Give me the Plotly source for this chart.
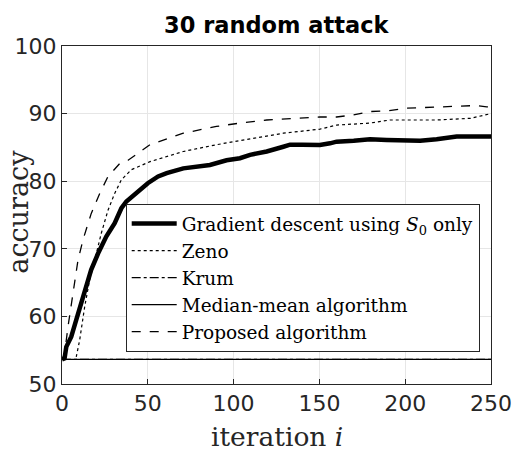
import plotly.graph_objects as go

# Iteration grid and accuracy curves (percent)
gd_iter = [0, 1.5, 2.5, 5.4, 8.3, 11.2, 14.2, 17, 21, 25.8, 30.7, 34.6, 37.5, 44.3, 50,
           56, 61, 70.7, 78, 86.2, 95.9, 103.7, 109.6, 119.3, 129, 132.9, 140, 150.3,
           156.2, 160, 170, 179.5, 189.2, 199, 208.7, 218.3, 230, 240, 250]
gd_acc = [53.65, 53.8, 55.5, 57.0, 59.5, 61.9, 64.4, 66.9, 69.3, 71.8, 73.8, 76.0, 77.0,
          78.4, 79.7, 80.7, 81.2, 81.9, 82.2, 82.4, 83.1, 83.4, 83.9, 84.4, 85.1, 85.4,
          85.4, 85.35, 85.6, 85.85, 86.0, 86.2, 86.1, 86.0, 86.0, 86.2, 86.6, 86.6, 86.6]

zeno_iter = [8.3, 10.3, 13.2, 16.1, 20, 22.9, 26.8, 30.7, 34.6, 40.4, 51.3, 70.7, 90,
             109.6, 129, 150.3, 160, 179.5, 191, 198.7, 218.3, 238, 247.5, 250]
zeno_acc = [54.0, 56.5, 61.4, 65.4, 69.3, 72.3, 75.7, 78.2, 80.2, 81.7, 82.9, 84.4, 85.4,
            86.3, 87.1, 87.7, 88.3, 88.6, 89.05, 89.05, 89.05, 89.3, 89.9, 90.0]

flat_iter = [0, 250]
krum_acc = [53.65, 53.65]
median_acc = [53.65, 53.65]

prop_iter = [0, 1.5, 3.5, 6.4, 9.3, 12.2, 17, 22, 26.8, 33.6, 38.5, 51.3, 70.7, 90, 103.7,
             119.3, 138.7, 150.3, 160, 169.8, 179.5, 189.2, 200.9, 212.5, 228, 241.7, 247.5, 250]
prop_acc = [53.65, 54.5, 58.5, 63.4, 68.3, 71.3, 75.2, 78.2, 80.7, 82.6, 83.1, 85.4, 87.1,
            88.1, 88.6, 89.05, 89.3, 89.5, 89.5, 89.8, 90.3, 90.4, 90.8, 90.9, 91.1, 91.2,
            91.0, 91.0]

x_ticks = [0, 50, 100, 150, 200, 250]
y_ticks = [50, 60, 70, 80, 90, 100]

INK = "#262626"
SERIF = "DejaVu Serif"

fig = go.Figure()
fig.add_trace(go.Scatter(x=gd_iter, y=gd_acc, mode="lines",
                         name="Gradient descent using <i>S</i><sub>0</sub> only",
                         line=dict(color="black", width=4.5)))
fig.add_trace(go.Scatter(x=zeno_iter, y=zeno_acc, mode="lines", name="Zeno",
                         line=dict(color="black", width=1.2, dash="dot")))
fig.add_trace(go.Scatter(x=flat_iter, y=krum_acc, mode="lines", name="Krum",
                         line=dict(color="black", width=1.2, dash="dashdot")))
fig.add_trace(go.Scatter(x=flat_iter, y=median_acc, mode="lines", name="Median-mean algorithm",
                         line=dict(color="black", width=1.2)))
fig.add_trace(go.Scatter(x=prop_iter, y=prop_acc, mode="lines", name="Proposed algorithm",
                         line=dict(color="black", width=1.3, dash="dash")))

axis_common = dict(
    showline=True, mirror=True, linecolor=INK, linewidth=1,
    ticks="inside", ticklen=5, tickcolor=INK,
    showgrid=True, gridcolor="#e6e6e6", gridwidth=1,
    zeroline=False, automargin=False,
    tickfont=dict(family="DejaVu Sans", size=22, color=INK),
)

fig.update_layout(
    width=512, height=453,
    margin=dict(l=62, r=21, t=46, b=69),
    paper_bgcolor="white", plot_bgcolor="white",
    title=dict(text="<b>30 random attack</b>", x=0.5395, xanchor="center",
               y=1 - 25 / 453, yanchor="middle",
               font=dict(family="DejaVu Sans", size=22.5, color="black")),
    xaxis=dict(range=[0, 250], tickvals=x_ticks, **axis_common),
    yaxis=dict(range=[50, 100], tickvals=y_ticks, **axis_common),
    showlegend=True,
    legend=dict(x=0.1485, y=0.5326, xanchor="left", yanchor="top",
                bgcolor="white", bordercolor=INK, borderwidth=1,
                font=dict(family=SERIF, size=18.5, color="black"),
                itemwidth=45, tracegroupgap=0),
    annotations=[
        dict(text="accuracy", xref="paper", yref="paper",
             x=-0.1, y=0.51, xanchor="center", yanchor="middle",
             textangle=-90, showarrow=False,
             font=dict(family=SERIF, size=27, color=INK)),
        dict(text="iteration <i>i</i>", xref="paper", yref="paper",
             x=0.5, y=-69 / 338, xanchor="center", yanchor="bottom",
             showarrow=False, borderpad=0,
             font=dict(family=SERIF, size=26.5, color=INK)),
    ],
)

fig.write_html("out.html")
